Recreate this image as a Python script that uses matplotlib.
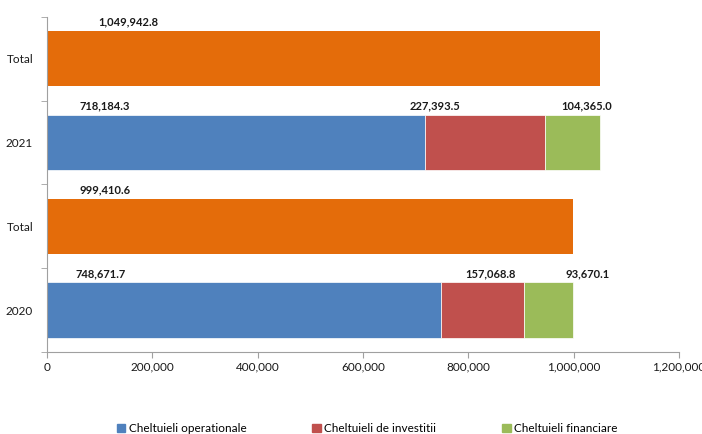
import numpy as np
import matplotlib.pyplot as plt
from matplotlib.patches import Patch

plt.rcParams['font.family'] = ['Lato', 'DejaVu Sans']

# data
categories = ['2020', 'Total', '2021', 'Total']
series_names = ['Cheltuieli operationale', 'Cheltuieli de investitii', 'Cheltuieli financiare']
operationale = [748671.7, 718184.3]
investitii = [157068.8, 227393.5]
financiare = [93670.1, 104365.0]
totals = [999410.6, 1049942.8]

colors = ['#4F81BD', '#C0504D', '#9BBB59']
total_color = '#E46C0A'

# label x positions (the source chart had labels moved by hand)
seg_label_x = [[101000, 843000, 1027000], [110000, 737000, 1025000]]
total_label_x = [110000, 154000]

fig = plt.figure(figsize=(7.02, 4.34), dpi=100)
ax = fig.add_axes([0.067, 0.189, 0.9, 0.772])

bar_h = 0.66
year_pos = [0, 2]
total_pos = [1, 3]

left = np.zeros(2)
for i, vals in enumerate([operationale, investitii, financiare]):
    ax.barh(year_pos, vals, left=left, height=bar_h, color=colors[i],
            edgecolor='white', linewidth=0.5, label=series_names[i])
    for j in range(2):
        ax.text(seg_label_x[j][i], year_pos[j] + bar_h / 2 + 0.04,
                f'{vals[j]:,.1f}', ha='center', va='bottom',
                fontsize=8, fontweight='bold', color='#1a1a1a')
    left += np.array(vals)

ax.barh(total_pos, totals, height=bar_h, color=total_color)
for j in range(2):
    ax.text(total_label_x[j], total_pos[j] + bar_h / 2 + 0.04,
            f'{totals[j]:,.1f}', ha='center', va='bottom',
            fontsize=8, fontweight='bold', color='#1a1a1a')

ax.set_xlim(0, 1200000)
ax.set_ylim(-0.5, 3.5)
ax.set_xticks(np.arange(0, 1200001, 200000))
ax.set_xticklabels([f'{int(v):,}' for v in np.arange(0, 1200001, 200000)])
ax.set_yticks(range(4))
ax.set_yticklabels(categories)
ax.set_yticks(np.arange(-0.5, 3.6, 1), minor=True)
ax.tick_params(axis='y', which='major', length=0, pad=10)
ax.tick_params(axis='y', which='minor', length=4, color='#A0A0A0')
ax.tick_params(axis='x', length=4, color='#A0A0A0', pad=3)
ax.tick_params(labelsize=8.5, labelcolor='#1a1a1a')

for s in ['top', 'right']:
    ax.spines[s].set_visible(False)
for s in ['left', 'bottom']:
    ax.spines[s].set_color('#A0A0A0')

handles = [Patch(color=c) for c in colors]
fig.legend(handles, series_names, loc='lower center', bbox_to_anchor=(0.523, -0.025),
           ncol=3, frameon=False, fontsize=8.5, handlelength=0.7, handleheight=0.7,
           handletextpad=0.3, columnspacing=5.6)

fig.savefig('out.png', dpi=100)
